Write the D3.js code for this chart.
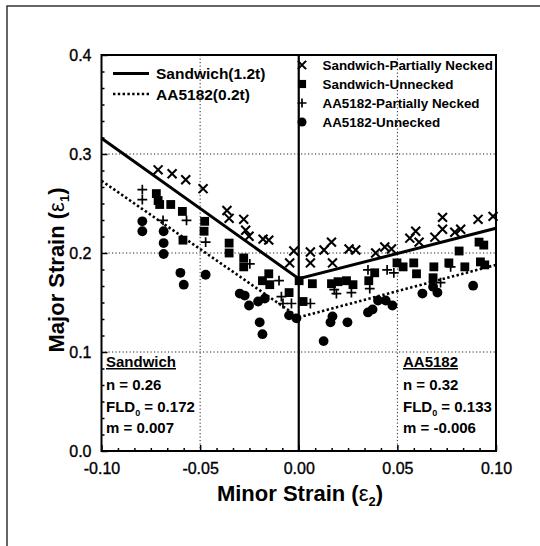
<!DOCTYPE html>
<html>
<head>
<meta charset="utf-8">
<script src="https://cdn.jsdelivr.net/npm/d3@7"></script>
<style>
  body { margin: 0; background: #fff; }
  svg { display: block; font-family: "Liberation Sans", Arial, sans-serif; }
  .grid { stroke: #222; stroke-width: 1; stroke-dasharray: 1.2,2.3; }
  .tick_lbl { font-size: 16px; stroke: #000; stroke-width: 0.35px; }
</style>
</head>
<body>
<div id="chart"></div>
<script>
// FLD curves: [minor strain, major strain]
var sandwichFLD = [[-0.10, 0.316], [0.00, 0.174], [0.10, 0.225]]
var aa5182FLD = [[-0.10, 0.273], [0.00, 0.135], [0.10, 0.188]]

var sandwichPartial = [
  [-0.0713, 0.284], [-0.0642, 0.280], [-0.0573, 0.274], [-0.0485, 0.265],
  [-0.0364, 0.243], [-0.0353, 0.235], [-0.0279, 0.234], [-0.0269, 0.223],
  [-0.0252, 0.217], [-0.0181, 0.214], [-0.0152, 0.213], [-0.0046, 0.190],
  [-0.0025, 0.202], [0.0059, 0.201], [0.0059, 0.190], [0.0128, 0.203],
  [0.0166, 0.211], [0.0171, 0.190], [0.0255, 0.204], [0.0289, 0.203],
  [0.0390, 0.200], [0.0436, 0.206], [0.0470, 0.204], [0.0563, 0.215],
  [0.0593, 0.222], [0.0610, 0.211], [0.0690, 0.216], [0.0729, 0.236],
  [0.0729, 0.224], [0.0791, 0.221], [0.0821, 0.224], [0.0909, 0.234],
  [0.0985, 0.237]
]
var sandwichUnnecked = [
  [-0.0722, 0.260], [-0.0713, 0.253], [-0.0705, 0.249], [-0.0649, 0.249],
  [-0.0590, 0.242], [-0.0587, 0.213], [-0.0477, 0.232], [-0.0480, 0.222],
  [-0.0353, 0.210], [-0.0353, 0.200], [-0.0279, 0.195], [-0.0279, 0.186],
  [-0.0152, 0.179], [-0.0184, 0.172], [-0.0147, 0.168], [-0.0049, 0.160],
  [0.0002, 0.172], [0.0022, 0.151], [0.0069, 0.169], [0.0166, 0.169],
  [0.0199, 0.171], [0.0242, 0.172], [0.0275, 0.168], [0.0355, 0.172],
  [0.0385, 0.180], [0.0498, 0.190], [0.0529, 0.186], [0.0583, 0.190],
  [0.0597, 0.179], [0.0685, 0.186], [0.0681, 0.175], [0.0761, 0.190],
  [0.0813, 0.202], [0.0842, 0.186], [0.0914, 0.211], [0.0938, 0.208],
  [0.0921, 0.191], [0.0943, 0.188]
]
var aa5182Partial = [
  [-0.0793, 0.264], [-0.0793, 0.254], [-0.0688, 0.233], [-0.0569, 0.233],
  [-0.0472, 0.211], [-0.0248, 0.189], [-0.0100, 0.172], [-0.0088, 0.156],
  [-0.0080, 0.149], [-0.0037, 0.149], [0.0059, 0.149], [0.0180, 0.163],
  [0.0191, 0.159], [0.0267, 0.160], [0.0351, 0.183], [0.0360, 0.164],
  [0.0448, 0.183], [0.0482, 0.180], [0.0719, 0.170], [0.0770, 0.186]
]
var aa5182Unnecked = [
  [-0.0793, 0.232], [-0.0793, 0.222], [-0.0685, 0.222], [-0.0685, 0.210],
  [-0.0685, 0.199], [-0.0600, 0.180], [-0.0583, 0.168], [-0.0472, 0.178],
  [-0.0299, 0.159], [-0.0274, 0.157], [-0.0252, 0.147], [-0.0206, 0.151],
  [-0.0172, 0.154], [-0.0198, 0.130], [-0.0184, 0.118], [-0.0049, 0.137],
  [-0.0012, 0.134], [0.0126, 0.111], [0.0161, 0.130], [0.0171, 0.136],
  [0.0247, 0.130], [0.0351, 0.140], [0.0374, 0.143], [0.0402, 0.152],
  [0.0441, 0.152], [0.0475, 0.147], [0.0627, 0.159], [0.0681, 0.166],
  [0.0703, 0.160], [0.0884, 0.167]
]

var xTicks = [-0.10, -0.05, 0.00, 0.05, 0.10]
var yTicks = [0.0, 0.1, 0.2, 0.3, 0.4]
var xGrid = [-0.05, 0.05]
var yGrid = [0.1, 0.2, 0.3]

var width = 540, height = 546
var plot = { left: 101.5, right: 496, top: 55, bottom: 451 }

var svg = d3.select("#chart").append("svg")
  .attr("width", width)
  .attr("height", height)

var x = d3.scaleLinear().domain([-0.1, 0.1]).range([plot.left, plot.right])
var y = d3.scaleLinear().domain([0, 0.4]).range([plot.bottom, plot.top])

// page frame (only top and left edges show)
svg.append("path")
  .attr("d", "M7,546 L7,6 L540,6")
  .attr("fill", "none")
  .attr("stroke", "#333")
  .attr("stroke-width", 1.5)

// grid
var g = svg.append("g")
g.selectAll(".gx").data(xGrid).enter().append("line")
  .attr("class", "grid")
  .attr("x1", function (d) { return x(d) }).attr("x2", function (d) { return x(d) })
  .attr("y1", plot.top).attr("y2", plot.bottom)
g.selectAll(".gy").data(yGrid).enter().append("line")
  .attr("class", "grid")
  .attr("y1", function (d) { return y(d) }).attr("y2", function (d) { return y(d) })
  .attr("x1", plot.left).attr("x2", plot.right)

// minor tick values: 5 between majors
function minorTicks(lo, hi, step) {
  var out = []
  for (var v = lo; v < hi - 1e-9; v += step) {
    for (var k = 1; k < 6; k++) out.push(v + step * k / 6)
  }
  return out
}

// plain hyphen instead of unicode minus
function fmt(spec) {
  var f = d3.format(spec)
  return function (d) { return f(d).replace("\u2212", "-") }
}

var xAxis = d3.axisBottom(x).tickValues(xTicks).tickSize(-6).tickPadding(12)
  .tickFormat(fmt(".2f"))
var yAxis = d3.axisLeft(y).tickValues(yTicks).tickSize(-6).tickPadding(10)
  .tickFormat(fmt(".1f"))

var gx = svg.append("g").attr("transform", "translate(0," + plot.bottom + ")").call(xAxis)
var gy = svg.append("g").attr("transform", "translate(" + plot.left + ",0)").call(yAxis)
svg.append("g").attr("transform", "translate(0," + plot.bottom + ")")
  .call(d3.axisBottom(x).tickValues(minorTicks(-0.1, 0.1, 0.05)).tickSize(-3).tickFormat(""))
svg.append("g").attr("transform", "translate(" + plot.left + ",0)")
  .call(d3.axisLeft(y).tickValues(minorTicks(0, 0.4, 0.1)).tickSize(-3).tickFormat(""))

svg.selectAll(".domain").remove()
svg.selectAll(".tick line").attr("stroke", "#000").attr("stroke-width", 1.5)
gx.selectAll("text").attr("class", "tick_lbl").attr("fill", "#000")
gy.selectAll("text").attr("class", "tick_lbl").attr("fill", "#000")

// plot box
svg.append("rect")
  .attr("x", plot.left).attr("y", plot.top)
  .attr("width", plot.right - plot.left).attr("height", plot.bottom - plot.top)
  .attr("fill", "none").attr("stroke", "#000").attr("stroke-width", 2)

// vertical zero line
svg.append("line")
  .attr("x1", x(0)).attr("x2", x(0)).attr("y1", plot.top).attr("y2", plot.bottom)
  .attr("stroke", "#000").attr("stroke-width", 2.2)

// FLD lines
var line = d3.line().x(function (d) { return x(d[0]) }).y(function (d) { return y(d[1]) })
svg.append("path").datum(sandwichFLD)
  .attr("d", line).attr("fill", "none").attr("stroke", "#000").attr("stroke-width", 3)
svg.append("path").datum(aa5182FLD)
  .attr("d", line).attr("fill", "none").attr("stroke", "#000").attr("stroke-width", 2.6)
  .attr("stroke-dasharray", "2.4,2.4")

// symbol shapes
var timesShape = {
  draw: function (ctx, size) {
    var r = Math.sqrt(size) / 2
    ctx.moveTo(-r, -r); ctx.lineTo(r, r)
    ctx.moveTo(r, -r); ctx.lineTo(-r, r)
  }
}
var plusShape = {
  draw: function (ctx, size) {
    var r = Math.sqrt(size) / 2
    ctx.moveTo(-r, 0); ctx.lineTo(r, 0)
    ctx.moveTo(0, -r); ctx.lineTo(0, r)
  }
}

var series = [
  { name: "Sandwich-Partially Necked", data: sandwichPartial, type: timesShape, size: 80, fill: "none", sw: 2.1 },
  { name: "Sandwich-Unnecked", data: sandwichUnnecked, type: d3.symbolSquare, size: 78, fill: "#000", sw: 0 },
  { name: "AA5182-Partially Necked", data: aa5182Partial, type: plusShape, size: 96, fill: "none", sw: 1.7 },
  { name: "AA5182-Unnecked", data: aa5182Unnecked, type: d3.symbolCircle, size: 76, fill: "#000", sw: 0 }
]

series.forEach(function (s) {
  svg.append("g").selectAll("path").data(s.data).enter().append("path")
    .attr("transform", function (d) { return "translate(" + x(d[0]) + "," + y(d[1]) + ")" })
    .attr("d", d3.symbol().type(s.type).size(s.size))
    .attr("fill", s.fill)
    .attr("stroke", "#000")
    .attr("stroke-width", s.sw)
})

// legend, lines
var legL = svg.append("g")
var lineLegend = [
  { label: "Sandwich(1.2t)", dash: null, sw: 3, y: 73.5 },
  { label: "AA5182(0.2t)", dash: "2.4,2.4", sw: 2.6, y: 94 }
]
lineLegend.forEach(function (l) {
  legL.append("line")
    .attr("x1", 113).attr("x2", 149).attr("y1", l.y).attr("y2", l.y)
    .attr("stroke", "#000").attr("stroke-width", l.sw)
    .attr("stroke-dasharray", l.dash)
  legL.append("text")
    .attr("x", 156).attr("y", l.y + 5.5)
    .attr("font-size", 15.5).attr("font-weight", "bold")
    .text(l.label)
})

// legend, symbols
var legR = svg.append("g")
series.forEach(function (s, i) {
  var ly = 65 + i * 19
  legR.append("path")
    .attr("transform", "translate(302," + ly + ")")
    .attr("d", d3.symbol().type(s.type).size(s.size * 0.85))
    .attr("fill", s.fill).attr("stroke", "#000").attr("stroke-width", s.sw)
  legR.append("text")
    .attr("x", 322.5).attr("y", ly + 5)
    .attr("font-size", 13.4).attr("font-weight", "bold")
    .text(s.name)
})

// material notes
function note(x0, title, n, fld, m) {
  var t = svg.append("g").attr("font-weight", "bold").attr("font-size", 15)
  t.append("text").attr("x", x0).attr("y", 367).attr("text-decoration", "underline").text(title)
  t.append("text").attr("x", x0).attr("y", 390).text("n = " + n)
  var f = t.append("text").attr("x", x0).attr("y", 411.5)
  f.append("tspan").text("FLD")
  f.append("tspan").attr("font-size", 9).attr("dy", 4).text("0")
  f.append("tspan").attr("dy", -4).text(" = " + fld)
  t.append("text").attr("x", x0).attr("y", 433).text("m = " + m)
}
note(106, "Sandwich", "0.26", "0.172", "0.007")
note(403, "AA5182", "0.32", "0.133", "-0.006")

// axis titles
var xt = svg.append("text")
  .attr("x", 300).attr("y", 501)
  .attr("text-anchor", "middle").attr("font-size", 22).attr("font-weight", "bold")
xt.append("tspan").text("Minor Strain (")
xt.append("tspan").attr("font-weight", "normal").text("ε")
xt.append("tspan").attr("font-size", 13).attr("dy", 5).text("2")
xt.append("tspan").attr("dy", -5).text(")")

var yt = svg.append("text")
  .attr("transform", "translate(64,270) rotate(-90)")
  .attr("text-anchor", "middle").attr("font-size", 22).attr("font-weight", "bold")
yt.append("tspan").text("Major Strain (")
yt.append("tspan").attr("font-weight", "normal").text("ε")
yt.append("tspan").attr("font-size", 13).attr("dy", 5).text("1")
yt.append("tspan").attr("dy", -5).text(")")
</script>
</body>
</html>
